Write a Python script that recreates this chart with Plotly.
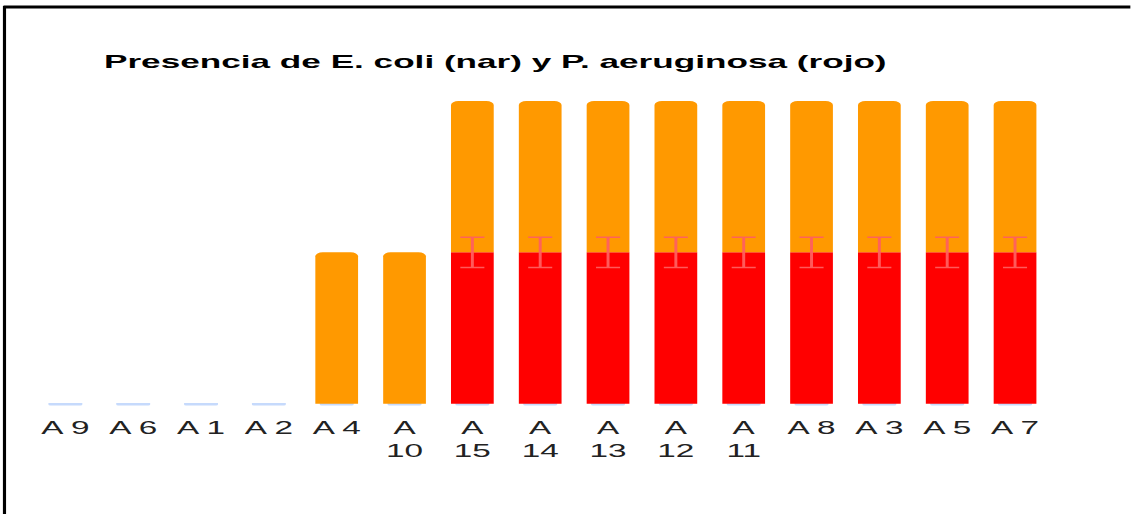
import plotly.graph_objects as go

categories = ["A 9", "A 6", "A 1", "A 2", "A 4", "A 10", "A 15", "A 14", "A 13", "A 12", "A 11", "A 8", "A 3", "A 5", "A 7"]
tick_labels = ["A 9", "A 6", "A 1", "A 2", "A 4", "A<br>10", "A<br>15", "A<br>14", "A<br>13", "A<br>12", "A<br>11", "A 8", "A 3", "A 5", "A 7"]
p_aeruginosa = [0, 0, 0, 0, 0, 0, 1, 1, 1, 1, 1, 1, 1, 1, 1]
p_aeruginosa_err = [0, 0, 0, 0, 0, 0, 0.1, 0.1, 0.1, 0.1, 0.1, 0.1, 0.1, 0.1, 0.1]
e_coli = [0, 0, 0, 0, 1, 1, 1, 1, 1, 1, 1, 1, 1, 1, 1]
baseline = [-0.012] * 15

# the reference is horizontally stretched; draw narrow and stretch the page element
S = 1.85
W_SCREEN, H = 1131, 514
W = W_SCREEN / S
L, R, T, B = 31 / S, 81 / S, 101, 108
pw, ph = W - L - R, H - T - B
YMIN, YMAX = -0.015, 2


def px_x(sx):
    return (sx / S - L) / pw


def px_y(py):
    return (H - B - py) / ph


err_y_vals = [v if v > 0 else None for v in p_aeruginosa]

fig = go.Figure()
fig.add_trace(go.Bar(x=categories, y=baseline, marker=dict(color="#c6dafc", line=dict(width=0)),
                     width=0.5, showlegend=False, hoverinfo="skip"))
fig.add_trace(go.Bar(x=categories, y=p_aeruginosa, name="P. aeruginosa",
                     marker=dict(color="#ff0000", line=dict(width=0))))
fig.add_trace(go.Bar(x=categories, y=e_coli, name="E. coli",
                     marker=dict(color="#ff9900", line=dict(width=0))))
fig.add_trace(go.Scatter(x=categories, y=err_y_vals, mode="markers",
                         marker=dict(size=1, color="rgba(0,0,0,0)"),
                         error_y=dict(type="data", array=p_aeruginosa_err, visible=True,
                                      color="rgba(255,95,95,0.95)", thickness=1.6, width=6.5),
                         showlegend=False, hoverinfo="skip"))

fig.update_layout(
    width=W, height=H,
    margin=dict(l=L, r=R, t=T, b=B, pad=0, autoexpand=False),
    barmode="relative",
    bargap=0.37,
    barcornerradius=4,
    plot_bgcolor="white", paper_bgcolor="white",
    showlegend=False,
    title=dict(text="<b>Presencia de E. coli (nar) y P. aeruginosa (rojo)</b>",
               x=(104 / S) / W, xref="container", xanchor="left",
               y=1 - 61 / H, yref="container", yanchor="middle",
               font=dict(family="Liberation Sans, Arial", size=19, color="#000000")),
    xaxis=dict(tickmode="array", tickvals=categories, ticktext=tick_labels,
               range=[-0.5, len(categories) - 0.5],
               tickfont=dict(family="Liberation Sans, Arial", size=18, color="#222222"),
               showgrid=False, zeroline=False, showline=False, automargin=False,
               ticks="outside", ticklen=5, tickcolor="rgba(0,0,0,0)"),
    yaxis=dict(range=[YMIN, YMAX], showgrid=False, zeroline=False, showline=False,
               showticklabels=False, ticks="", automargin=False),
    shapes=[
        dict(type="line", xref="paper", yref="paper", x0=px_x(3), x1=px_x(1140), y0=px_y(7), y1=px_y(7),
             line=dict(color="#000000", width=3)),
        dict(type="line", xref="paper", yref="paper", x0=px_x(4), x1=px_x(4), y0=px_y(6), y1=px_y(520),
             line=dict(color="#000000", width=1.7)),
    ],
)

post = f"""
document.body.style.margin = '0';
document.body.style.overflow = 'hidden';
var gd = document.querySelector('.plotly-graph-div');
gd.style.transformOrigin = '0 0';
gd.style.transform = 'scaleX({S})';
"""

fig.write_html("out.html", post_script=post, config={"displayModeBar": False, "responsive": False})
